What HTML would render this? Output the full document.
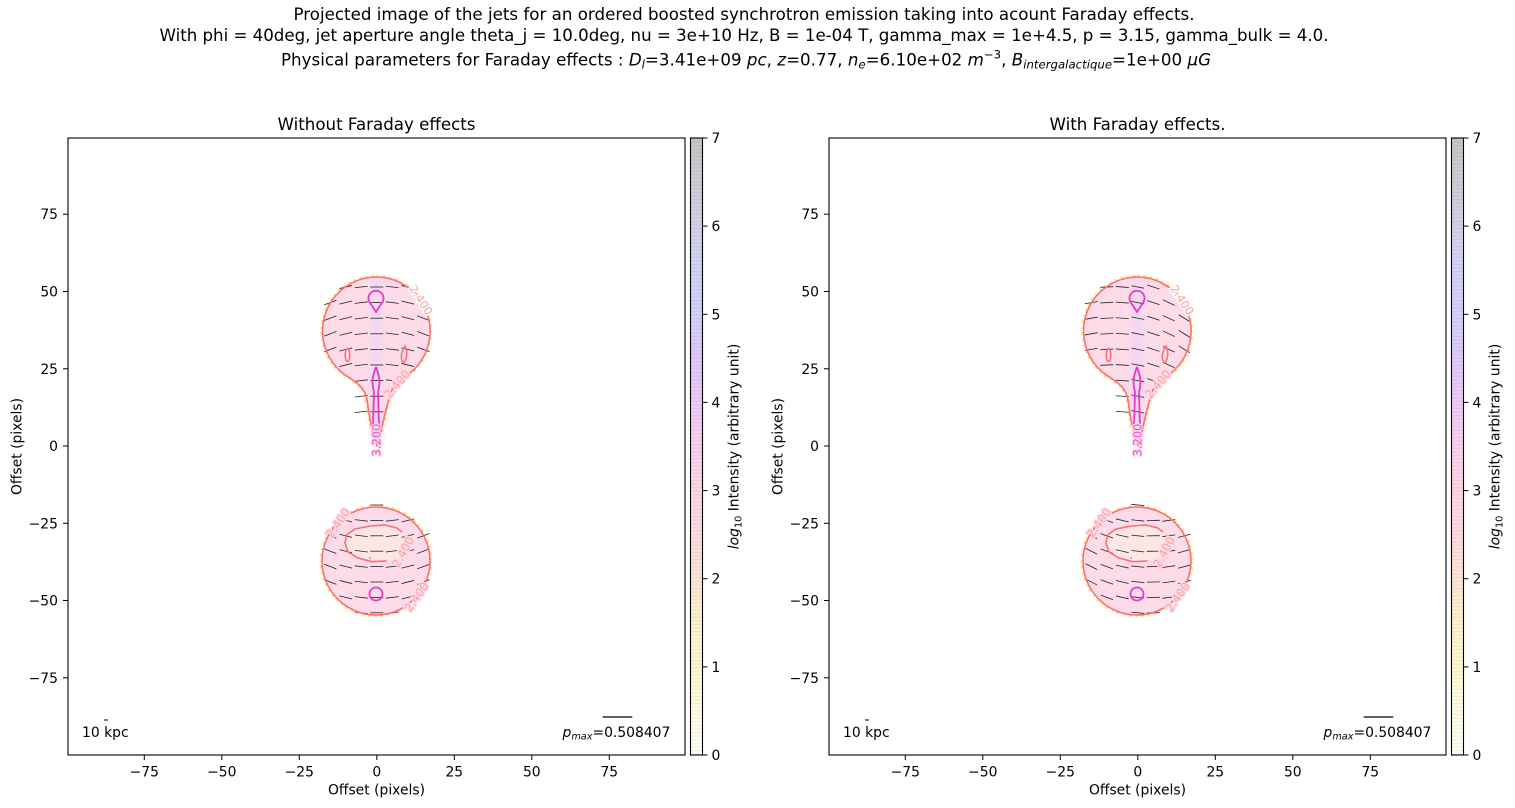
<!DOCTYPE html>
<html><head><meta charset="utf-8"><style>
html,body{margin:0;padding:0;background:#fff;}
svg{display:block;font-family:"DejaVu Sans","Liberation Sans",sans-serif;}
</style></head><body>
<svg id="root" xmlns="http://www.w3.org/2000/svg" width="1515" height="808" viewBox="0 0 1515 808">
<defs>
<linearGradient id="cb" x1="0" y1="1" x2="0" y2="0">
<stop offset="0" stop-color="#fffff8"/>
<stop offset="0.0714" stop-color="#fffde6"/>
<stop offset="0.1429" stop-color="#fffacc"/>
<stop offset="0.214" stop-color="#fff2cc"/>
<stop offset="0.2857" stop-color="#ffe5d6"/>
<stop offset="0.357" stop-color="#ffdce0"/>
<stop offset="0.4286" stop-color="#ffd5e6"/>
<stop offset="0.5" stop-color="#f9d1ee"/>
<stop offset="0.5714" stop-color="#edcaf7"/>
<stop offset="0.643" stop-color="#dec9fb"/>
<stop offset="0.714" stop-color="#d3d0ff"/>
<stop offset="0.786" stop-color="#d2d2f6"/>
<stop offset="0.857" stop-color="#d2d2e8"/>
<stop offset="0.929" stop-color="#cdcdd6"/>
<stop offset="1" stop-color="#c6c6c6"/>
</linearGradient>
<pattern id="stripe" x="0" y="138" width="20" height="3.6" patternUnits="userSpaceOnUse">
<rect x="0" y="0" width="20" height="1" fill="rgba(0,0,0,0.07)"/>
</pattern>
<linearGradient id="axisband" x1="0" y1="0" x2="1" y2="0">
<stop offset="0" stop-color="#f4d6f2" stop-opacity="0"/>
<stop offset="0.5" stop-color="#f0d4f4" stop-opacity="0.8"/>
<stop offset="1" stop-color="#f4d6f2" stop-opacity="0"/>
</linearGradient>
</defs>

<!-- Suptitle -->
<text x="744" y="20" text-anchor="middle" font-size="16.67" textLength="901" lengthAdjust="spacing">Projected image of the jets for an ordered boosted synchrotron emission taking into acount Faraday effects.</text>
<text x="744" y="41" text-anchor="middle" font-size="16.67" textLength="1169" lengthAdjust="spacing">With phi = 40deg, jet aperture angle theta_j = 10.0deg, nu = 3e+10 Hz, B = 1e-04 T, gamma_max = 1e+4.5, p = 3.15, gamma_bulk = 4.0.</text>
<text x="746" y="65.5" text-anchor="middle" font-size="16.67" textLength="930" lengthAdjust="spacing">Physical parameters for Faraday effects : <tspan font-style="italic">D</tspan><tspan font-style="italic" font-size="11.7" dy="3">l</tspan><tspan dy="-3">=3.41e+09 </tspan><tspan font-style="italic">pc</tspan>, <tspan font-style="italic">z</tspan>=0.77, <tspan font-style="italic">n</tspan><tspan font-style="italic" font-size="11.7" dy="3">e</tspan><tspan dy="-3">=6.10e+02 </tspan><tspan font-style="italic">m</tspan><tspan font-size="11.7" dy="-7">−3</tspan><tspan dy="7">, </tspan><tspan font-style="italic">B</tspan><tspan font-style="italic" font-size="11.7" dy="3">intergalactique</tspan><tspan dy="-3">=1e+00 </tspan><tspan font-style="italic">μG</tspan></text>

<!-- ============ LEFT PLOT ============ -->
<g id="plotL">
<text x="376.5" y="130" text-anchor="middle" font-size="16.67">Without Faraday effects</text>
<rect x="68" y="138" width="617" height="617" fill="#fff"/>

<path d="M376.5,277 A54,54 0 0 1 410,373 C401,381 393,384 390,395 L385,414 L381,431 L377,445 L373,432 L370,420 L367,400 C365,388 358,384 350,378 A54,54 0 0 1 376.5,277 Z" fill="none" stroke="#ffd447" stroke-width="5" stroke-dasharray="2 4 3 3" opacity="0.7"/>
<path d="M376.5,277 A54,54 0 0 1 410,373 C401,381 393,384 390,395 L385,414 L381,431 L377,445 L373,432 L370,420 L367,400 C365,388 358,384 350,378 A54,54 0 0 1 376.5,277 Z" fill="#fddbe8"/>
<rect x="366" y="280" width="21" height="160" fill="url(#axisband)"/>
<circle cx="376" cy="561" r="54" fill="none" stroke="#ffd447" stroke-width="5" stroke-dasharray="2 4 3 3" opacity="0.7"/>
<circle cx="376" cy="561" r="54" fill="#fddbe8"/>
<path d="M386.7,561 L371.7,561.7 L358,558 L348,552 L345,543 L346.7,535 L355,529 L370,526 L385,525 L396.7,528 L402,532 L404,545 L398,558 Z" fill="#fde7e4"/>

<g id="segL" stroke="#222" stroke-width="0.8"></g>

<path d="M376.5,277 A54,54 0 0 1 410,373 C401,381 393,384 390,395 L385,414 L381,431 L377,445 L373,432 L370,420 L367,400 C365,388 358,384 350,378 A54,54 0 0 1 376.5,277 Z" fill="none" stroke="#fa6e78" stroke-width="1.6"/>
<circle cx="376" cy="561" r="54" fill="none" stroke="#fa6e78" stroke-width="1.6"/>
<path d="M402,532 L396.7,528 L385,525 L370,526 L355,529 L346.7,535 L345,543 L348,552 L358,558 L371.7,561.7 L386.7,561" fill="none" stroke="#fa6e78" stroke-width="1.6"/>
<circle cx="370" cy="558" r="0.9" fill="#fa6e78"/>
<ellipse cx="347.5" cy="355" rx="2.3" ry="6.5" fill="none" stroke="#fa6e78" stroke-width="1.5"/>
<path d="M405,346 C408,352 407,359 403.5,363 C400,359 401,352 405,346 Z" fill="none" stroke="#fa6e78" stroke-width="1.5"/>

<path d="M376,312 L369.5,302 A7.5,7.5 0 1 1 382.5,302 Z" fill="none" stroke="#e23cc8" stroke-width="1.8" stroke-linejoin="round"/>
<path d="M376,367 C373,375 371,382 374,392 L373,428 M376,367 C379,375 381,382 378,392 L379,428" fill="none" stroke="#e23cc8" stroke-width="1.8"/>
<circle cx="376" cy="594" r="6.5" fill="none" stroke="#e23cc8" stroke-width="1.8"/>

<g font-size="11.5" fill="#ffa0a0" text-anchor="middle" stroke-linejoin="round">
<text transform="translate(421,300) rotate(57)" dy="4" stroke="#fff" stroke-width="3" paint-order="stroke">2.400</text>
<text transform="translate(397,384) rotate(-50)" dy="4" stroke="#fddbe8" stroke-width="3" paint-order="stroke">2.400</text>
<text transform="translate(338,523) rotate(-55)" dy="4" stroke="#fddbe8" stroke-width="3" paint-order="stroke">2.400</text>
<text transform="translate(403,552) rotate(-62)" dy="4" stroke="#fddbe8" stroke-width="3" paint-order="stroke">2.400</text>
<text transform="translate(416.5,597) rotate(-55)" dy="4" stroke="#fddbe8" stroke-width="3" paint-order="stroke">2.400</text>
</g>
<text transform="translate(376.5,440) rotate(-90)" dy="4" font-size="11.5" fill="#e44ccc" text-anchor="middle" stroke="#fddbe8" stroke-width="2.5" paint-order="stroke">3.200</text>

<line x1="104" y1="720" x2="108" y2="720" stroke="#000" stroke-width="1"/>
<text x="82" y="737" font-size="13.9">10 kpc</text>
<line x1="602.7" y1="717" x2="632.3" y2="717" stroke="#000" stroke-width="1.2"/>
<text x="562.5" y="737" font-size="13.9"><tspan font-style="italic">p</tspan><tspan font-style="italic" font-size="9.7" dy="2.5">max</tspan><tspan dy="-2.5">=0.508407</tspan></text>

<rect x="68" y="138" width="617" height="617" fill="none" stroke="#000" stroke-width="1.1"/>

<g stroke="#000" stroke-width="1">
<line x1="144.3" y1="755" x2="144.3" y2="760"/><line x1="221.8" y1="755" x2="221.8" y2="760"/><line x1="299.3" y1="755" x2="299.3" y2="760"/><line x1="376.8" y1="755" x2="376.8" y2="760"/><line x1="454.3" y1="755" x2="454.3" y2="760"/><line x1="531.8" y1="755" x2="531.8" y2="760"/><line x1="609.3" y1="755" x2="609.3" y2="760"/>
<line x1="63" y1="214.2" x2="68" y2="214.2"/><line x1="63" y1="291.5" x2="68" y2="291.5"/><line x1="63" y1="368.8" x2="68" y2="368.8"/><line x1="63" y1="446" x2="68" y2="446"/><line x1="63" y1="523.3" x2="68" y2="523.3"/><line x1="63" y1="600.5" x2="68" y2="600.5"/><line x1="63" y1="677.8" x2="68" y2="677.8"/>
</g>
<g font-size="13.9" text-anchor="middle">
<text x="144.3" y="776.5">−75</text><text x="221.8" y="776.5">−50</text><text x="299.3" y="776.5">−25</text><text x="376.8" y="776.5">0</text><text x="454.3" y="776.5">25</text><text x="531.8" y="776.5">50</text><text x="609.3" y="776.5">75</text>
</g>
<g font-size="13.9" text-anchor="end">
<text x="58" y="219.2">75</text><text x="58" y="296.5">50</text><text x="58" y="373.8">25</text><text x="58" y="451">0</text><text x="58" y="528.3">−25</text><text x="58" y="605.5">−50</text><text x="58" y="682.8">−75</text>
</g>
<text x="376.5" y="794.5" text-anchor="middle" font-size="13.9">Offset (pixels)</text>
<text transform="translate(21.5,446.5) rotate(-90)" text-anchor="middle" font-size="13.9">Offset (pixels)</text>

<rect x="690.5" y="138" width="12" height="617" fill="url(#cb)"/>
<rect x="690.5" y="138" width="12" height="617" fill="url(#stripe)"/>
<rect x="690.5" y="138" width="12" height="617" fill="none" stroke="#000" stroke-width="1.1"/>
<g stroke="#000" stroke-width="1">
<line x1="702.5" y1="755" x2="707.5" y2="755"/><line x1="702.5" y1="666.9" x2="707.5" y2="666.9"/><line x1="702.5" y1="578.7" x2="707.5" y2="578.7"/><line x1="702.5" y1="490.6" x2="707.5" y2="490.6"/><line x1="702.5" y1="402.4" x2="707.5" y2="402.4"/><line x1="702.5" y1="314.3" x2="707.5" y2="314.3"/><line x1="702.5" y1="226.1" x2="707.5" y2="226.1"/><line x1="702.5" y1="138" x2="707.5" y2="138"/>
</g>
<g font-size="13.9">
<text x="711.5" y="760">0</text><text x="711.5" y="671.9">1</text><text x="711.5" y="583.7">2</text><text x="711.5" y="495.6">3</text><text x="711.5" y="407.4">4</text><text x="711.5" y="319.3">5</text><text x="711.5" y="231.1">6</text><text x="711.5" y="143">7</text>
</g>
<text transform="translate(738.5,446.5) rotate(-90)" text-anchor="middle" font-size="13.9"><tspan font-style="italic">log</tspan><tspan font-size="9.7" dy="3">10</tspan><tspan dy="-3"> Intensity (arbitrary unit)</tspan></text>
</g>

<!-- ============ RIGHT PLOT ============ -->
<g id="plotR" transform="translate(761,0)">
<text x="376.5" y="130" text-anchor="middle" font-size="16.67">With Faraday effects.</text>
<rect x="68" y="138" width="617" height="617" fill="#fff"/>

<path d="M376.5,277 A54,54 0 0 1 410,373 C401,381 393,384 390,395 L385,414 L381,431 L377,445 L373,432 L370,420 L367,400 C365,388 358,384 350,378 A54,54 0 0 1 376.5,277 Z" fill="none" stroke="#ffd447" stroke-width="5" stroke-dasharray="2 4 3 3" opacity="0.7"/>
<path d="M376.5,277 A54,54 0 0 1 410,373 C401,381 393,384 390,395 L385,414 L381,431 L377,445 L373,432 L370,420 L367,400 C365,388 358,384 350,378 A54,54 0 0 1 376.5,277 Z" fill="#fddbe8"/>
<rect x="366" y="280" width="21" height="160" fill="url(#axisband)"/>
<circle cx="376" cy="561" r="54" fill="none" stroke="#ffd447" stroke-width="5" stroke-dasharray="2 4 3 3" opacity="0.7"/>
<circle cx="376" cy="561" r="54" fill="#fddbe8"/>
<path d="M386.7,561 L371.7,561.7 L358,558 L348,552 L345,543 L346.7,535 L355,529 L370,526 L385,525 L396.7,528 L402,532 L404,545 L398,558 Z" fill="#fde7e4"/>

<g id="segR" stroke="#222" stroke-width="0.8"></g>

<path d="M376.5,277 A54,54 0 0 1 410,373 C401,381 393,384 390,395 L385,414 L381,431 L377,445 L373,432 L370,420 L367,400 C365,388 358,384 350,378 A54,54 0 0 1 376.5,277 Z" fill="none" stroke="#fa6e78" stroke-width="1.6"/>
<circle cx="376" cy="561" r="54" fill="none" stroke="#fa6e78" stroke-width="1.6"/>
<path d="M402,532 L396.7,528 L385,525 L370,526 L355,529 L346.7,535 L345,543 L348,552 L358,558 L371.7,561.7 L386.7,561" fill="none" stroke="#fa6e78" stroke-width="1.6"/>
<circle cx="370" cy="558" r="0.9" fill="#fa6e78"/>
<ellipse cx="347.5" cy="355" rx="2.3" ry="6.5" fill="none" stroke="#fa6e78" stroke-width="1.5"/>
<path d="M405,346 C408,352 407,359 403.5,363 C400,359 401,352 405,346 Z" fill="none" stroke="#fa6e78" stroke-width="1.5"/>

<path d="M376,312 L369.5,302 A7.5,7.5 0 1 1 382.5,302 Z" fill="none" stroke="#e23cc8" stroke-width="1.8" stroke-linejoin="round"/>
<path d="M376,367 C373,375 371,382 374,392 L373,428 M376,367 C379,375 381,382 378,392 L379,428" fill="none" stroke="#e23cc8" stroke-width="1.8"/>
<circle cx="376" cy="594" r="6.5" fill="none" stroke="#e23cc8" stroke-width="1.8"/>

<g font-size="11.5" fill="#ffa0a0" text-anchor="middle" stroke-linejoin="round">
<text transform="translate(421,300) rotate(57)" dy="4" stroke="#fff" stroke-width="3" paint-order="stroke">2.400</text>
<text transform="translate(397,384) rotate(-50)" dy="4" stroke="#fddbe8" stroke-width="3" paint-order="stroke">2.400</text>
<text transform="translate(338,523) rotate(-55)" dy="4" stroke="#fddbe8" stroke-width="3" paint-order="stroke">2.400</text>
<text transform="translate(403,552) rotate(-62)" dy="4" stroke="#fddbe8" stroke-width="3" paint-order="stroke">2.400</text>
<text transform="translate(416.5,597) rotate(-55)" dy="4" stroke="#fddbe8" stroke-width="3" paint-order="stroke">2.400</text>
</g>
<text transform="translate(376.5,440) rotate(-90)" dy="4" font-size="11.5" fill="#e44ccc" text-anchor="middle" stroke="#fddbe8" stroke-width="2.5" paint-order="stroke">3.200</text>

<line x1="104" y1="720" x2="108" y2="720" stroke="#000" stroke-width="1"/>
<text x="82" y="737" font-size="13.9">10 kpc</text>
<line x1="602.7" y1="717" x2="632.3" y2="717" stroke="#000" stroke-width="1.2"/>
<text x="562.5" y="737" font-size="13.9"><tspan font-style="italic">p</tspan><tspan font-style="italic" font-size="9.7" dy="2.5">max</tspan><tspan dy="-2.5">=0.508407</tspan></text>

<rect x="68" y="138" width="617" height="617" fill="none" stroke="#000" stroke-width="1.1"/>

<g stroke="#000" stroke-width="1">
<line x1="144.3" y1="755" x2="144.3" y2="760"/><line x1="221.8" y1="755" x2="221.8" y2="760"/><line x1="299.3" y1="755" x2="299.3" y2="760"/><line x1="376.8" y1="755" x2="376.8" y2="760"/><line x1="454.3" y1="755" x2="454.3" y2="760"/><line x1="531.8" y1="755" x2="531.8" y2="760"/><line x1="609.3" y1="755" x2="609.3" y2="760"/>
<line x1="63" y1="214.2" x2="68" y2="214.2"/><line x1="63" y1="291.5" x2="68" y2="291.5"/><line x1="63" y1="368.8" x2="68" y2="368.8"/><line x1="63" y1="446" x2="68" y2="446"/><line x1="63" y1="523.3" x2="68" y2="523.3"/><line x1="63" y1="600.5" x2="68" y2="600.5"/><line x1="63" y1="677.8" x2="68" y2="677.8"/>
</g>
<g font-size="13.9" text-anchor="middle">
<text x="144.3" y="776.5">−75</text><text x="221.8" y="776.5">−50</text><text x="299.3" y="776.5">−25</text><text x="376.8" y="776.5">0</text><text x="454.3" y="776.5">25</text><text x="531.8" y="776.5">50</text><text x="609.3" y="776.5">75</text>
</g>
<g font-size="13.9" text-anchor="end">
<text x="58" y="219.2">75</text><text x="58" y="296.5">50</text><text x="58" y="373.8">25</text><text x="58" y="451">0</text><text x="58" y="528.3">−25</text><text x="58" y="605.5">−50</text><text x="58" y="682.8">−75</text>
</g>
<text x="376.5" y="794.5" text-anchor="middle" font-size="13.9">Offset (pixels)</text>
<text transform="translate(21.5,446.5) rotate(-90)" text-anchor="middle" font-size="13.9">Offset (pixels)</text>

<rect x="690.5" y="138" width="12" height="617" fill="url(#cb)"/>
<rect x="690.5" y="138" width="12" height="617" fill="url(#stripe)"/>
<rect x="690.5" y="138" width="12" height="617" fill="none" stroke="#000" stroke-width="1.1"/>
<g stroke="#000" stroke-width="1">
<line x1="702.5" y1="755" x2="707.5" y2="755"/><line x1="702.5" y1="666.9" x2="707.5" y2="666.9"/><line x1="702.5" y1="578.7" x2="707.5" y2="578.7"/><line x1="702.5" y1="490.6" x2="707.5" y2="490.6"/><line x1="702.5" y1="402.4" x2="707.5" y2="402.4"/><line x1="702.5" y1="314.3" x2="707.5" y2="314.3"/><line x1="702.5" y1="226.1" x2="707.5" y2="226.1"/><line x1="702.5" y1="138" x2="707.5" y2="138"/>
</g>
<g font-size="13.9">
<text x="711.5" y="760">0</text><text x="711.5" y="671.9">1</text><text x="711.5" y="583.7">2</text><text x="711.5" y="495.6">3</text><text x="711.5" y="407.4">4</text><text x="711.5" y="319.3">5</text><text x="711.5" y="231.1">6</text><text x="711.5" y="143">7</text>
</g>
<text transform="translate(738.5,446.5) rotate(-90)" text-anchor="middle" font-size="13.9"><tspan font-style="italic">log</tspan><tspan font-size="9.7" dy="3">10</tspan><tspan dy="-3"> Intensity (arbitrary unit)</tspan></text>
</g>
</svg>
<script>
(function(){
var NS='http://www.w3.org/2000/svg';
function seg(g,x,y,a){
  var r=a*Math.PI/180,L=6.5,dx=L*Math.cos(r),dy=L*Math.sin(r);
  var l=document.createElementNS(NS,'line');
  l.setAttribute('x1',(x-dx).toFixed(2));l.setAttribute('y1',(y-dy).toFixed(2));
  l.setAttribute('x2',(x+dx).toFixed(2));l.setAttribute('y2',(y+dy).toFixed(2));
  g.appendChild(l);
}
function build(id,offU,offL){
  var g=document.getElementById(id);
  var cols=[];for(var k=-3;k<=3;k++)cols.push(376.8+15.5*k);
  for(var j=0;j<9;j++){
    var y=287+15.6*j;
    for(var i=0;i<cols.length;i++){
      var x=cols[i];
      var d=Math.sqrt((x-376.5)*(x-376.5)+(y-331)*(y-331));
      var ok=d<=57;
      if(j>=7&&x>355&&x<380)ok=true;
      if(ok)seg(g,x,y,0.45*(x-376.8)+offU);
    }
  }
  for(var j2=0;j2<8;j2++){
    var y2=505+15.4*j2;
    for(var i2=0;i2<cols.length;i2++){
      var x2=cols[i2];
      var d2=Math.sqrt((x2-376)*(x2-376)+(y2-561)*(y2-561));
      if(d2<=57)seg(g,x2,y2,-0.45*(x2-376.8)+offL);
    }
  }
}
build('segL',0,0);
build('segR',11,6);
})();
</script>
</body></html>
